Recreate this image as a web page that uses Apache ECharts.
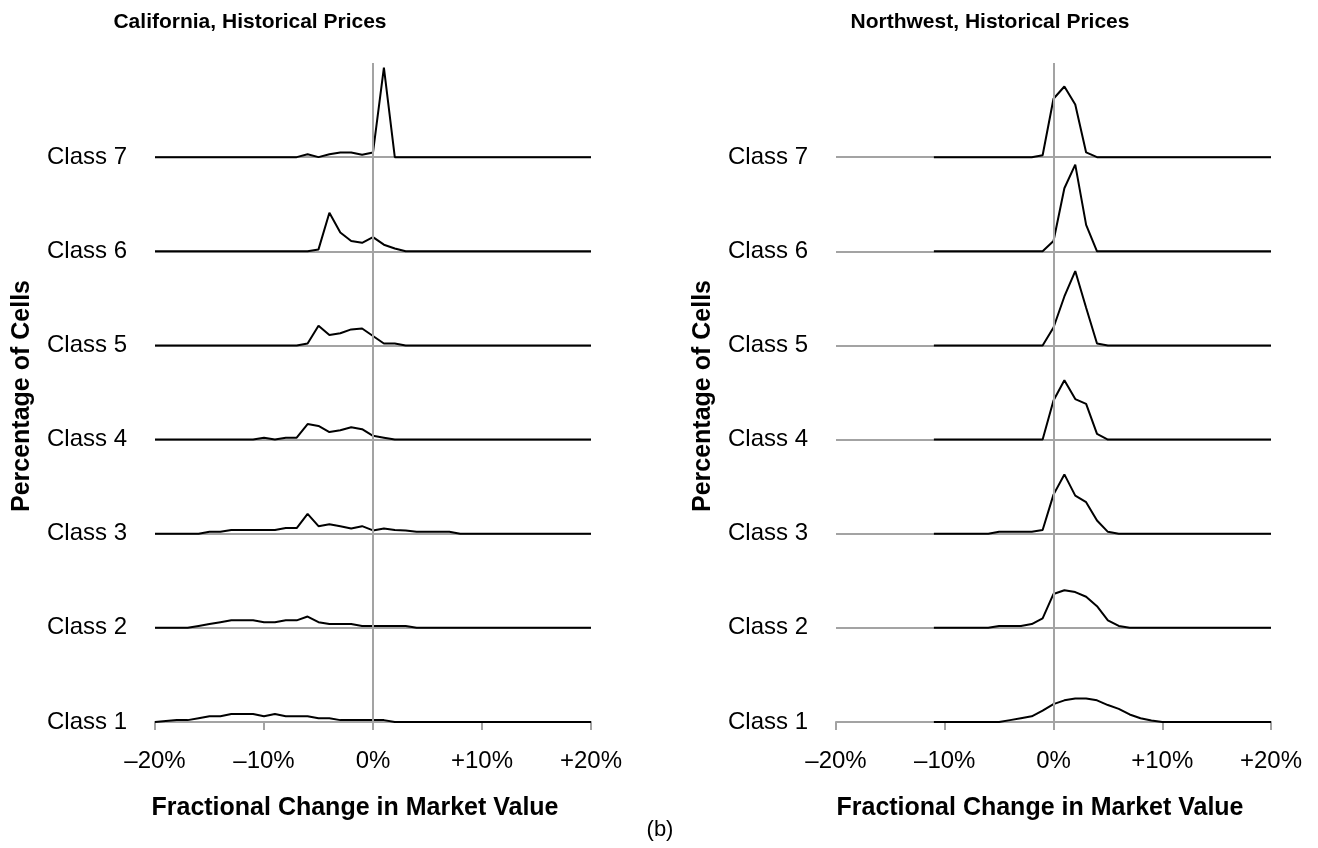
<!DOCTYPE html>
<html>
<head>
<meta charset="utf-8">
<title>Fractional Change in Market Value</title>
<script src="https://cdn.jsdelivr.net/npm/echarts@6/dist/echarts.min.js"></script>
<style>
  html, body { margin: 0; padding: 0; background: #fff; }
  #chart { width: 1318px; height: 848px; }
</style>
</head>
<body>
<div id="chart"></div>
<script>
// Share of cells (%) per 1% bin of fractional change in market value.
// California bins run from -20% to +20%.
var caStart = -20;
var caClass1 = [0,1,2,2,4,6,6,8.5,8.5,8.5,6,8.5,6,6,6,4,4,2,2,2,2,2,0,0,0,0,0,0,0,0,0,0,0,0,0,0,0,0,0,0,0];
var caClass2 = [0,0,0,0,2,4,6,8,8,8,6,6,8,8,12,6,4,4,4,2,2,2,2,2,0,0,0,0,0,0,0,0,0,0,0,0,0,0,0,0,0];
var caClass3 = [0,0,0,0,0,2,2,4,4,4,4,4,6,6,21,8,10,8,5.5,8,3.5,5.5,4,3.5,2,2,2,2,0,0,0,0,0,0,0,0,0,0,0,0,0];
var caClass4 = [0,0,0,0,0,0,0,0,0,0,2,0,2,2,16.5,14.5,8,10,13,11,4,2,0,0,0,0,0,0,0,0,0,0,0,0,0,0,0,0,0,0,0];
var caClass5 = [0,0,0,0,0,0,0,0,0,0,0,0,0,0,2,21,11,13,17,18,10,2,2,0,0,0,0,0,0,0,0,0,0,0,0,0,0,0,0,0,0];
var caClass6 = [0,0,0,0,0,0,0,0,0,0,0,0,0,0,0,2,41,20,11,9,15,7,3,0,0,0,0,0,0,0,0,0,0,0,0,0,0,0,0,0,0];
var caClass7 = [0,0,0,0,0,0,0,0,0,0,0,0,0,0,3,0,3,5,5,2.5,5,95,0,0,0,0,0,0,0,0,0,0,0,0,0,0,0,0,0,0,0];

// Northwest bins run from -11% to +20%.
var nwStart = -11;
var nwClass1 = [0,0,0,0,0,0,0,2,4,6,12,19,23,25,25,23,18,14,8,4,1.5,0,0,0,0,0,0,0,0,0,0,0];
var nwClass2 = [0,0,0,0,0,0,2,2,2,4,10,36,40,38,33,23,8,2,0,0,0,0,0,0,0,0,0,0,0,0,0,0];
var nwClass3 = [0,0,0,0,0,0,2,2,2,2,4,41.5,63,40.5,33.5,14,2,0,0,0,0,0,0,0,0,0,0,0,0,0,0,0];
var nwClass4 = [0,0,0,0,0,0,0,0,0,0,0,41.5,63,43,38,6,0,0,0,0,0,0,0,0,0,0,0,0,0,0,0,0];
var nwClass5 = [0,0,0,0,0,0,0,0,0,0,0,19,52,79,40,2,0,0,0,0,0,0,0,0,0,0,0,0,0,0,0,0];
var nwClass6 = [0,0,0,0,0,0,0,0,0,0,0,11,67,92,28,0,0,0,0,0,0,0,0,0,0,0,0,0,0,0,0,0];
var nwClass7 = [0,0,0,0,0,0,0,0,0,0,2,62,75,56,5,0,0,0,0,0,0,0,0,0,0,0,0,0,0,0,0,0];

var classNames = ['Class 1','Class 2','Class 3','Class 4','Class 5','Class 6','Class 7'];
var xTickLabels = ['\u201320%','\u201310%','0%','+10%','+20%'];
var panelTitles = ['California, Historical Prices', 'Northwest, Historical Prices'];
var xAxisTitle = 'Fractional Change in Market Value';
var yAxisTitle = 'Percentage of Cells';

var caData = [caClass1, caClass2, caClass3, caClass4, caClass5, caClass6, caClass7];
var nwData = [nwClass1, nwClass2, nwClass3, nwClass4, nwClass5, nwClass6, nwClass7];

var FONT = '"Liberation Sans", Arial, Helvetica, sans-serif';
var GRAY = '#a3a3a3';

// Each class is stacked on its own baseline: y = class index + share (1 band = 100%).
function ridge(values, start, classIdx) {
  return values.map(function (v, i) { return [start + i, classIdx + v / 100]; });
}

function xAxisFor(gridIndex) {
  return {
    type: 'value', gridIndex: gridIndex, min: -20, max: 20, interval: 10,
    axisLine: { show: true, lineStyle: { color: GRAY, width: 2 } },
    axisTick: { show: true, length: 8, lineStyle: { color: GRAY, width: 2 } },
    splitLine: { show: false },
    axisLabel: {
      margin: 27, color: '#000', fontSize: 24, fontFamily: FONT,
      formatter: function (v) { return xTickLabels[Math.round((v + 20) / 10)]; }
    }
  };
}

function yAxisFor(gridIndex, labelMargin) {
  return {
    type: 'value', gridIndex: gridIndex, min: 1, max: 8, interval: 1,
    axisLine: { show: false }, axisTick: { show: false },
    splitLine: { show: true, showMaxLine: false, lineStyle: { color: GRAY, width: 2 } },
    axisLabel: {
      margin: labelMargin, color: '#000', fontSize: 24, fontFamily: FONT,
      formatter: function (v) { return v <= 7 ? classNames[v - 1] : ''; }
    }
  };
}

var series = [];
[caData, nwData].forEach(function (panel, p) {
  var start = p === 0 ? caStart : nwStart;
  // vertical reference line at zero change
  series.push({
    type: 'line', xAxisIndex: p, yAxisIndex: p, data: [], z: 1, silent: true,
    markLine: {
      silent: true, symbol: 'none', animation: false,
      label: { show: false },
      lineStyle: { color: GRAY, width: 2, type: 'solid' },
      data: [{ xAxis: 0 }]
    }
  });
  panel.forEach(function (vals, c) {
    series.push({
      name: classNames[c], type: 'line', xAxisIndex: p, yAxisIndex: p, z: 3,
      data: ridge(vals, start, c + 1),
      showSymbol: false, symbol: 'none', silent: true,
      lineStyle: { color: '#000', width: 2 }
    });
  });
});

function text(str, x, y, size, bold, rotate) {
  return {
    type: 'text', x: x, y: y, rotation: rotate ? Math.PI / 2 : 0,
    style: {
      text: str, fill: '#000', font: (bold ? 'bold ' : '') + size + 'px ' + FONT,
      textAlign: 'center', textVerticalAlign: 'middle'
    }
  };
}

var chart = echarts.init(document.getElementById('chart'), null, { renderer: 'canvas' });
chart.setOption({
  animation: false,
  backgroundColor: '#fff',
  grid: [
    { left: 155, top: 63, width: 436, height: 659 },
    { left: 836, top: 63, width: 435, height: 659 }
  ],
  xAxis: [xAxisFor(0), xAxisFor(1)],
  yAxis: [yAxisFor(0, 28), yAxisFor(1, 28)],
  series: series,
  graphic: [
    text(panelTitles[0], 250, 22, 21, true),
    text(panelTitles[1], 990, 22, 21, true),
    text(xAxisTitle, 355, 808, 25, true),
    text(xAxisTitle, 1040, 808, 25, true),
    text(yAxisTitle, 22, 396, 25, true, true),
    text(yAxisTitle, 703, 396, 25, true, true),
    text('(b)', 660, 830, 22, false)
  ]
});
</script>
</body>
</html>
